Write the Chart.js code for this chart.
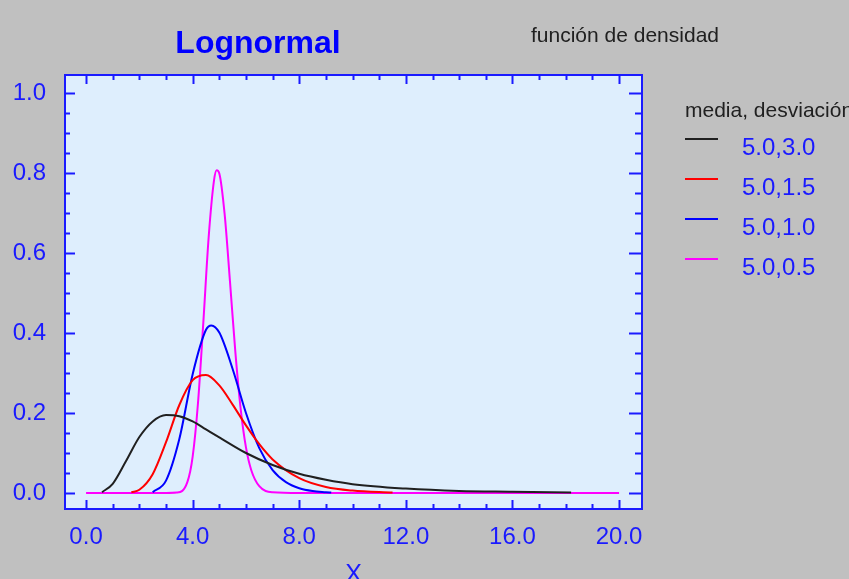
<!DOCTYPE html>
<html lang="es">
<head>
<meta charset="UTF-8">
<title>Lognormal</title>
<script src="https://cdn.jsdelivr.net/npm/chart.js"></script>
<style>
    body { margin: 0; background: #c0c0c0; }
    #wrap { width: 849px; height: 579px; }
</style>
</head>
<body>
<div id="wrap"><canvas id="lognormalChart" width="849" height="579"></canvas></div>
<script>
    // legend labels: media, desviación
    const seriesLabels = ['5.0,3.0', '5.0,1.5', '5.0,1.0', '5.0,0.5'];
    const seriesColors = ['#202020', '#ff0000', '#0000ff', '#ff00ff'];

    // values
    const xBlack = [0.6, 1, 1.5, 2, 2.5, 3, 3.5, 4, 4.5, 5, 6, 7, 8, 9, 10, 12, 14, 16, 18.2];
    const yBlack = [0.002, 0.023, 0.080, 0.140, 0.179, 0.195, 0.192, 0.179, 0.159, 0.139, 0.100, 0.070, 0.048, 0.033, 0.022, 0.011, 0.005, 0.003, 0.001];

    const xRed = [1.7, 2, 2.5, 3, 3.5, 4, 4.5, 5, 5.5, 6, 6.5, 7, 8, 9, 10, 11.5];
    const yRed = [0.002, 0.008, 0.047, 0.127, 0.220, 0.282, 0.295, 0.269, 0.221, 0.169, 0.122, 0.084, 0.037, 0.015, 0.006, 0.001];

    const xBlue = [2.5, 3, 3.5, 4, 4.5, 4.7, 5, 5.5, 6, 6.5, 7, 7.5, 8, 8.5, 9, 9.2];
    const yBlue = [0.002, 0.031, 0.135, 0.297, 0.408, 0.419, 0.401, 0.310, 0.200, 0.112, 0.057, 0.027, 0.012, 0.005, 0.002, 0.001];

    const xPink = [0, 1, 2, 3, 3.4, 3.8, 4, 4.2, 4.4, 4.6, 4.8, 4.9, 5, 5.2, 5.4, 5.6, 5.8, 6, 6.2, 6.5, 7, 8, 12, 16, 20];
    const yPink = [0, 0, 0, 0, 0.001, 0.027, 0.091, 0.225, 0.426, 0.639, 0.781, 0.807, 0.799, 0.697, 0.529, 0.354, 0.211, 0.114, 0.057, 0.017, 0.002, 0, 0, 0, 0];

    const xTicks = [0, 4, 8, 12, 16, 20];
    const yTicks = [0, 0.2, 0.4, 0.6, 0.8, 1.0];

    const BLUE = '#1a1aff';
    const FONT = '"Liberation Sans", Arial, sans-serif';

    function pts(xs, ys) {
        return xs.map((x, i) => ({ x: x, y: ys[i] }));
    }

    const frame = {
        id: 'frame',
        beforeDatasetsDraw(chart) {
            const a = chart.chartArea, ctx = chart.ctx;
            ctx.save();
            ctx.fillStyle = '#deeefd';
            ctx.fillRect(a.left, a.top, a.right - a.left, a.bottom - a.top);
            ctx.restore();
        },
        afterDatasetsDraw(chart) {
            const a = chart.chartArea, ctx = chart.ctx;
            const xs = chart.scales.x, ys = chart.scales.y;
            ctx.save();
            ctx.strokeStyle = BLUE;
            ctx.lineWidth = 2;
            ctx.strokeRect(a.left, a.top, a.right - a.left, a.bottom - a.top);
            ctx.beginPath();
            // x minor / major ticks, bottom and top, pointing inwards
            for (let v = 0; v <= 20; v += 1) {
                const px = Math.round(xs.getPixelForValue(v)) + 0.5;
                const len = v % 4 === 0 ? 9 : 5;
                ctx.moveTo(px, a.bottom); ctx.lineTo(px, a.bottom - len);
                ctx.moveTo(px, a.top); ctx.lineTo(px, a.top + len);
            }
            // y ticks, left and right
            for (let k = 0; k <= 20; k++) {
                const py = Math.round(ys.getPixelForValue(k * 0.05)) + 0.5;
                const major = k % 4 === 0;
                ctx.moveTo(a.left, py); ctx.lineTo(a.left + (major ? 10 : 5), py);
                ctx.moveTo(a.right, py); ctx.lineTo(a.right - (major ? 13 : 7), py);
            }
            ctx.stroke();
            ctx.restore();
        },
        afterDraw(chart) {
            const ctx = chart.ctx;
            ctx.save();
            ctx.fillStyle = '#0000ff';
            ctx.font = 'bold 32px ' + FONT;
            ctx.textAlign = 'center';
            ctx.textBaseline = 'alphabetic';
            ctx.fillText('Lognormal', 258, 53);

            ctx.fillStyle = '#202020';
            ctx.font = '21px ' + FONT;
            ctx.textAlign = 'left';
            ctx.fillText('función de densidad', 531, 42);
            ctx.fillText('media, desviación', 685, 117);

            ctx.fillStyle = BLUE;
            ctx.font = '25px ' + FONT;
            ctx.textAlign = 'center';
            ctx.fillText('X', (chart.chartArea.left + chart.chartArea.right) / 2, 582);

            ctx.font = '24px ' + FONT;
            ctx.textAlign = 'left';
            ctx.textBaseline = 'middle';
            chart.data.datasets.forEach((ds, i) => {
                const y = 139 + i * 40;
                ctx.strokeStyle = ds.borderColor;
                ctx.lineWidth = 2;
                ctx.beginPath();
                ctx.moveTo(685, y); ctx.lineTo(718, y);
                ctx.stroke();
                ctx.fillStyle = BLUE;
                ctx.fillText(ds.label, 742, y + 9);
            });
            ctx.restore();
        }
    };

    const common = { fill: false, borderWidth: 2, pointRadius: 0, cubicInterpolationMode: 'monotone' };

    new Chart(document.getElementById('lognormalChart'), {
        type: 'line',
        data: {
            datasets: [
                Object.assign({ label: seriesLabels[0], data: pts(xBlack, yBlack), borderColor: seriesColors[0] }, common),
                Object.assign({ label: seriesLabels[1], data: pts(xRed, yRed), borderColor: seriesColors[1] }, common),
                Object.assign({ label: seriesLabels[2], data: pts(xBlue, yBlue), borderColor: seriesColors[2] }, common),
                Object.assign({ label: seriesLabels[3], data: pts(xPink, yPink), borderColor: seriesColors[3] }, common)
            ]
        },
        options: {
            responsive: false,
            animation: false,
            layout: { padding: { left: 0, right: 207, top: 75, bottom: 0 } },
            plugins: { legend: { display: false }, title: { display: false }, tooltip: { enabled: false } },
            scales: {
                x: {
                    type: 'linear',
                    min: -0.79,
                    max: 20.86,
                    afterFit(scale) { scale.height = 70; },
                    afterBuildTicks(scale) { scale.ticks = xTicks.map(v => ({ value: v })); },
                    grid: { display: false },
                    border: { display: false },
                    ticks: {
                        color: BLUE,
                        font: { family: FONT, size: 24 },
                        padding: 6,
                        maxRotation: 0,
                        callback: v => v.toFixed(1)
                    }
                },
                y: {
                    type: 'linear',
                    min: -0.04,
                    max: 1.045,
                    afterFit(scale) { scale.width = 65; },
                    afterBuildTicks(scale) { scale.ticks = yTicks.map(v => ({ value: v })); },
                    grid: { display: false },
                    border: { display: false },
                    ticks: {
                        color: BLUE,
                        font: { family: FONT, size: 24 },
                        padding: 11,
                        callback: v => v.toFixed(1)
                    }
                }
            }
        },
        plugins: [frame]
    });
</script>
</body>
</html>
